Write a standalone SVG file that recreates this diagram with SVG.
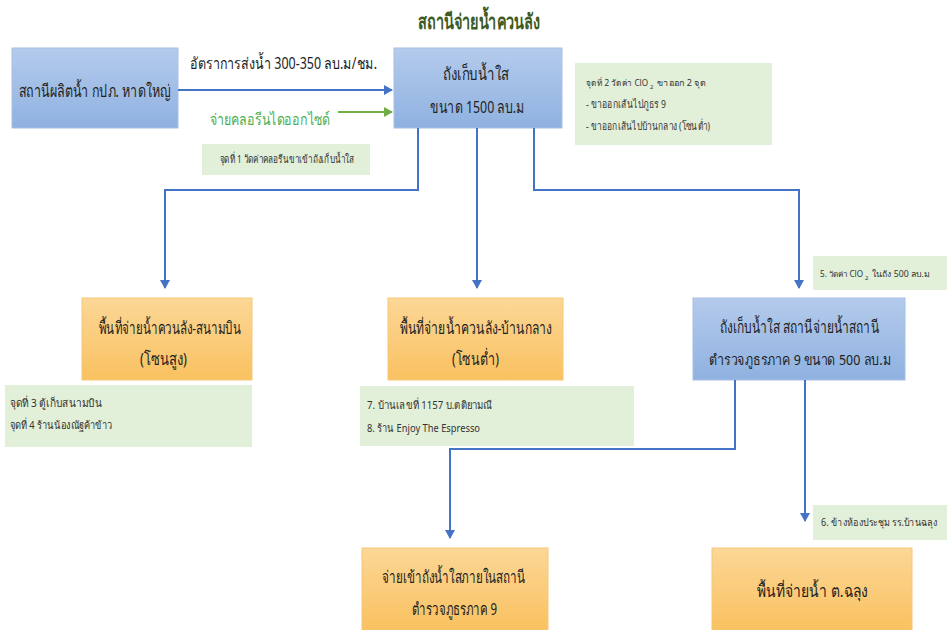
<svg xmlns="http://www.w3.org/2000/svg" width="952" height="630" viewBox="0 0 952 630">
<defs>
<linearGradient id="gb" x1="0" y1="0" x2="0" y2="1"><stop offset="0" stop-color="#b4cbec"/><stop offset="1" stop-color="#8fb1e0"/></linearGradient>
<linearGradient id="go" x1="0" y1="0" x2="0" y2="1"><stop offset="0" stop-color="#fcd796"/><stop offset="1" stop-color="#f9c160"/></linearGradient>
<marker id="ab" markerWidth="10" markerHeight="10" refX="8" refY="5" orient="auto" markerUnits="userSpaceOnUse"><path d="M0,0 L9,5 L0,10 Z" fill="#4472c4"/></marker>
<marker id="ag" markerWidth="10" markerHeight="10" refX="8" refY="5" orient="auto" markerUnits="userSpaceOnUse"><path d="M0,0 L9,5 L0,10 Z" fill="#70ad47"/></marker>
</defs>
<style>
text{font-family:"Noto Sans","Liberation Sans",sans-serif;fill:#222}
.blue{fill:url(#gb);stroke:#a7c0e4;stroke-width:1}
.orange{fill:url(#go);stroke:#f5c878;stroke-width:1}
.note{fill:#e2efd9}
.t{font-size:17px}
.n{font-size:11px;fill:#333}
.m{font-size:8.5px;fill:#333}
.s{font-size:6px;fill:#333}
.c{fill:none;stroke:#4472c4;stroke-width:2}
</style>
<rect width="952" height="630" fill="#ffffff"/>
<text x="418" y="29" textLength="122" lengthAdjust="spacingAndGlyphs" style="font-size:21px;font-weight:bold;fill:#3d5a22">สถานีจ่ายน้ำควนลัง</text>

<g id="n-source"><rect class="blue" x="12" y="48" width="166" height="80"/><text class="t" x="19" y="97" textLength="151" lengthAdjust="spacingAndGlyphs">สถานีผลิตน้ำ กปภ. หาดใหญ่</text></g>
<g id="n-tank1500"><rect class="blue" x="394" y="48" width="168" height="80"/><text class="t" x="443" y="80" textLength="66" lengthAdjust="spacingAndGlyphs">ถังเก็บน้ำใส</text><text class="t" x="430" y="113" textLength="94" lengthAdjust="spacingAndGlyphs">ขนาด 1500 ลบ.ม</text></g>
<g id="n-note1"><rect class="note" x="202" y="144" width="168" height="31"/><text class="n" x="220" y="163" textLength="134" lengthAdjust="spacingAndGlyphs">จุดที่ 1 วัดค่าคลอรีนขาเข้าถังเก็บน้ำใส</text></g>
<g id="n-note2"><rect class="note" x="575" y="63" width="197" height="82"/>
<text class="m" x="586" y="86" textLength="62" lengthAdjust="spacingAndGlyphs">จุดที่ 2 วัดค่า ClO</text><text class="s" x="650" y="89">2</text><text class="m" x="657" y="86" textLength="49" lengthAdjust="spacingAndGlyphs">ขาออก 2 จุด</text>
<text class="n" x="586" y="108" textLength="80" lengthAdjust="spacingAndGlyphs">- ขาออกเส้นไปภูธร 9</text><text class="n" x="586" y="130" textLength="124" lengthAdjust="spacingAndGlyphs">- ขาออกเส้นไปบ้านกลาง (โซนต่ำ)</text></g>
<g id="n-zone-high"><rect class="orange" x="82" y="298" width="170" height="82"/><text class="t" x="99" y="334" textLength="142" lengthAdjust="spacingAndGlyphs">พื้นที่จ่ายน้ำควนลัง-สนามบิน</text><text class="t" x="140" y="365" textLength="47" lengthAdjust="spacingAndGlyphs">(โซนสูง)</text></g>
<g id="n-note34"><rect class="note" x="5" y="385" width="247" height="62"/><text class="n" x="10" y="407" textLength="92" lengthAdjust="spacingAndGlyphs">จุดที่ 3 ตู้เก็บสนามบิน</text><text class="n" x="10" y="429" textLength="102" lengthAdjust="spacingAndGlyphs">จุดที่ 4 ร้านน้องณัฐค้าข้าว</text></g>
<g id="n-zone-low"><rect class="orange" x="388" y="298" width="175" height="82"/><text class="t" x="400" y="334" textLength="152" lengthAdjust="spacingAndGlyphs">พื้นที่จ่ายน้ำควนลัง-บ้านกลาง</text><text class="t" x="452" y="365" textLength="47" lengthAdjust="spacingAndGlyphs">(โซนต่ำ)</text></g>
<g id="n-note78"><rect class="note" x="360" y="386" width="274" height="60"/><text class="n" x="367" y="409" textLength="125" lengthAdjust="spacingAndGlyphs">7. บ้านเลขที่ 1157 บ.ตติยามณี</text><text class="n" x="367" y="432" textLength="113" lengthAdjust="spacingAndGlyphs">8. ร้าน Enjoy The Espresso</text></g>
<g id="n-tank500"><rect class="blue" x="693" y="298" width="212" height="82"/><text class="t" x="720" y="333" textLength="159" lengthAdjust="spacingAndGlyphs">ถังเก็บน้ำใส สถานีจ่ายน้ำสถานี</text><text class="t" x="709" y="365" textLength="182" lengthAdjust="spacingAndGlyphs" style="font-size:15px">ตำรวจภูธรภาค 9 ขนาด 500 ลบ.ม</text></g>
<g id="n-note5"><rect class="note" x="813" y="256" width="134" height="34"/>
<text class="m" x="820" y="277" textLength="43" lengthAdjust="spacingAndGlyphs" style="font-size:8px">5. วัดค่า ClO</text><text class="s" x="865" y="280">2</text><text class="m" x="872" y="277" textLength="58" lengthAdjust="spacingAndGlyphs">ในถัง 500 ลบ.ม</text></g>
<g id="n-note6"><rect class="note" x="813" y="505" width="134" height="35"/><text class="n" x="821" y="526" textLength="116" lengthAdjust="spacingAndGlyphs" style="font-size:10px">6. ข้างห้องประชุม รร.บ้านฉลุง</text></g>
<g id="n-police"><rect class="orange" x="362" y="548" width="186" height="82"/><text class="t" x="382" y="583" textLength="143" lengthAdjust="spacingAndGlyphs">จ่ายเข้าถังน้ำใสภายในสถานี</text><text class="t" x="412" y="615" textLength="85" lengthAdjust="spacingAndGlyphs">ตำรวจภูธรภาค 9</text></g>
<g id="n-chalung"><rect class="orange" x="712" y="548" width="200" height="82"/><text class="t" x="757" y="597" textLength="111" lengthAdjust="spacingAndGlyphs">พื้นที่จ่ายน้ำ ต.ฉลุง</text></g>

<g id="connectors">
<path class="c" d="M178,90 H392" marker-end="url(#ab)"/>
<text x="190" y="69" textLength="187" lengthAdjust="spacingAndGlyphs" style="font-size:16px">อัตราการส่งน้ำ 300-350 ลบ.ม/ชม.</text>
<path d="M338,112 H392" fill="none" stroke="#70ad47" stroke-width="2" marker-end="url(#ag)"/>
<text x="210" y="125" textLength="120" lengthAdjust="spacingAndGlyphs" style="font-size:16px;fill:#4caf50">จ่ายคลอรีนไดออกไซด์</text>
<path class="c" d="M418,128 V190 H165 V288" marker-end="url(#ab)"/>
<path class="c" d="M477,128 V288" marker-end="url(#ab)"/>
<path class="c" d="M534,128 V190 H799 V288" marker-end="url(#ab)"/>
<path class="c" d="M735,380 V449 H450 V538" marker-end="url(#ab)"/>
<path class="c" d="M805,380 V521" marker-end="url(#ab)"/>
</g>
</svg>
